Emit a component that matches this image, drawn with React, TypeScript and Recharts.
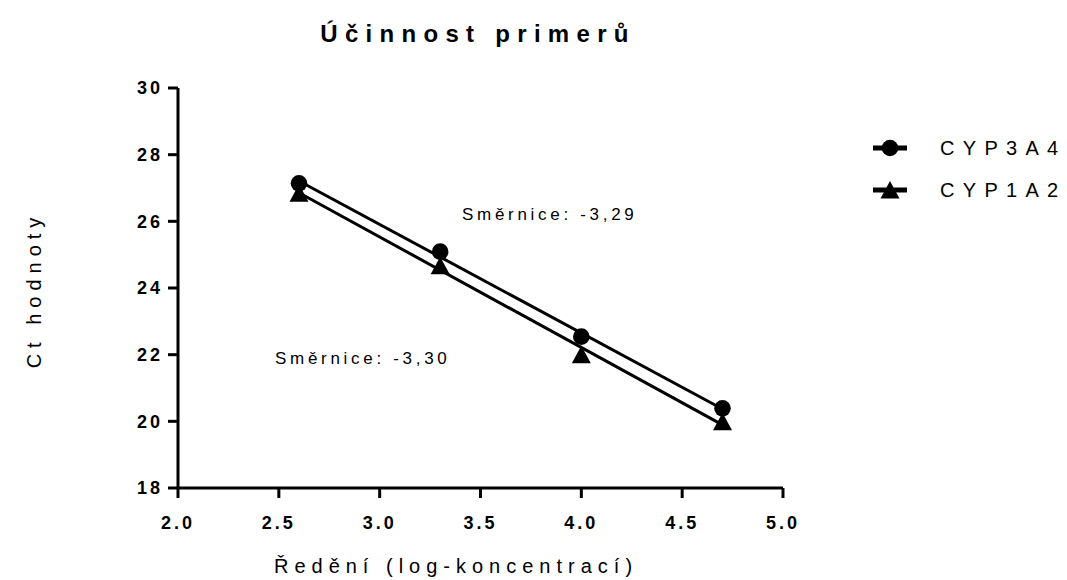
import React from 'react';
import { ComposedChart, Scatter, XAxis, YAxis, Customized } from 'recharts';

const xValues = [2.6, 3.3, 4.0, 4.7];
const cyp3a4 = [27.14, 25.09, 22.54, 20.39];
const cyp1a2 = [26.84, 24.67, 22.0, 19.99];
const xTicks = [2.0, 2.5, 3.0, 3.5, 4.0, 4.5, 5.0];
const yTicks = [18, 20, 22, 24, 26, 28, 30];
const seriesNames = ['CYP3A4', 'CYP1A2'];
const slopeLabels = ['Směrnice: -3,29', 'Směrnice: -3,30'];
const title = 'Účinnost primerů';
const xTitle = 'Ředění (log-koncentrací)';
const yTitle = 'Ct hodnoty';

const data3a4 = xValues.map((x, i) => ({ x, y: cyp3a4[i] }));
const data1a2 = xValues.map((x, i) => ({ x, y: cyp1a2[i] }));

const FONT = '"Liberation Sans", Arial, sans-serif';

const CircleShape = (p: any) => <circle cx={p.cx} cy={p.cy} r={8.3} fill="#000" />;
const TriangleShape = (p: any) => (
  <polygon
    points={`${p.cx},${p.cy - 9} ${p.cx + 9.5},${p.cy + 8.5} ${p.cx - 9.5},${p.cy + 8.5}`}
    fill="#000"
  />
);

const Overlay = () => (
  <g fontFamily={FONT} fill="#000">
    <text x={478} y={42} textAnchor="middle" fontSize={24} fontWeight="bold" letterSpacing={7.3}>
      {title}
    </text>
    <text x={456} y={573} textAnchor="middle" fontSize={20} letterSpacing={6}>
      {xTitle}
    </text>
    <text x={41} y={290} textAnchor="middle" fontSize={20} letterSpacing={6} transform="rotate(-90, 41, 290)">
      {yTitle}
    </text>
    <text x={462} y={220} fontSize={17} letterSpacing={3.7}>
      {slopeLabels[0]}
    </text>
    <text x={275} y={364} fontSize={17} letterSpacing={3.7}>
      {slopeLabels[1]}
    </text>
    {/* legend */}
    <line x1={873} x2={907} y1={148} y2={148} stroke="#000" strokeWidth={5} />
    <circle cx={890} cy={148} r={8.3} fill="#000" />
    <text x={940} y={155} fontSize={20} letterSpacing={8.3}>
      {seriesNames[0]}
    </text>
    <line x1={873} x2={907} y1={190} y2={190} stroke="#000" strokeWidth={5} />
    <polygon points={`890,${190 - 9} ${890 + 9.5},${190 + 8.5} ${890 - 9.5},${190 + 8.5}`} fill="#000" />
    <text x={940} y={197} fontSize={20} letterSpacing={8.3}>
      {seriesNames[1]}
    </text>
  </g>
);

const tickStyle = { fill: '#000', fontSize: 18, fontWeight: 'bold', letterSpacing: 3, fontFamily: FONT };

export default function App() {
  return (
    <div style={{ position: 'absolute', left: 0, top: 0, width: 1067, height: 580, background: '#fff' }}>
      <ComposedChart width={1067} height={580} margin={{ top: 88, right: 284, bottom: 32, left: 0 }}>
        <XAxis
          type="number"
          dataKey="x"
          domain={[2, 5]}
          ticks={xTicks}
          interval={0}
          tickFormatter={(v: number) => v.toFixed(1)}
          stroke="#000"
          strokeWidth={3}
          axisLine={{ stroke: '#000', strokeWidth: 3 }}
          tickLine={{ stroke: '#000', strokeWidth: 3 }}
          tickSize={10}
          tickMargin={18}
          tick={tickStyle}
          height={60}
        />
        <YAxis
          type="number"
          dataKey="y"
          domain={[18, 30]}
          ticks={yTicks}
          interval={0}
          stroke="#000"
          strokeWidth={3}
          axisLine={{ stroke: '#000', strokeWidth: 3 }}
          tickLine={{ stroke: '#000', strokeWidth: 3 }}
          tickSize={10}
          tickMargin={5}
          tick={tickStyle}
          width={178}
        />
        <Scatter
          name={seriesNames[0]}
          data={data3a4}
          dataKey="y"
          shape={CircleShape}
          line={{ stroke: '#000', strokeWidth: 3 }}
          lineType="fitting"
          isAnimationActive={false}
        />
        <Scatter
          name={seriesNames[1]}
          data={data1a2}
          dataKey="y"
          shape={TriangleShape}
          line={{ stroke: '#000', strokeWidth: 3 }}
          lineType="fitting"
          isAnimationActive={false}
        />
        <Customized component={Overlay} />
      </ComposedChart>
    </div>
  );
}
